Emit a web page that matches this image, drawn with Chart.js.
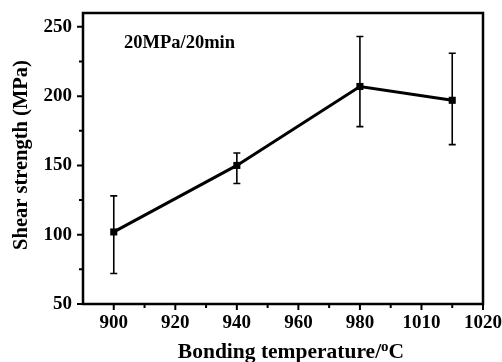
<!DOCTYPE html>
<html>
<head>
<meta charset="utf-8">
<script src="https://cdn.jsdelivr.net/npm/chart.js@4.4.1/dist/chart.umd.min.js"></script>
<style>
html,body{margin:0;padding:0;background:#fff;}
#wrap{width:502px;height:362px;}
</style>
</head>
<body>
<div id="wrap"><canvas id="c" width="502" height="362"></canvas></div>
<script>
const temperatures = [900, 940, 980, 1010];
const shearStrength = [102, 150, 207, 197];
const errorUpper = [128, 159, 243, 231];
const errorLower = [72, 137, 178, 165];
const xTickValues = [900, 920, 940, 960, 980, 1000, 1020];
const xTickLabels = ['900', '920', '940', '960', '980', '1010', '1020'];
const yTickValues = [50, 100, 150, 200, 250];
const annotationText = '20MPa/20min';
const yTitle = 'Shear strength (MPa)';
const xTitleMain = 'Bonding temperature/';
const xTitleSup = 'o';
const xTitleEnd = 'C';

const FONT = '"Liberation Serif", "Times New Roman", serif';

const decorPlugin = {
  id: 'decor',
  afterDatasetsDraw(chart) {
    const ctx = chart.ctx;
    const xs = chart.scales.x, ys = chart.scales.y;
    const a = chart.chartArea;
    ctx.save();
    // error bars
    ctx.strokeStyle = '#000';
    ctx.lineWidth = 1.6;
    for (let i = 0; i < temperatures.length; i++) {
      const px = xs.getPixelForValue(temperatures[i]);
      const pt = ys.getPixelForValue(errorUpper[i]);
      const pb = ys.getPixelForValue(errorLower[i]);
      ctx.beginPath();
      ctx.moveTo(px, pt); ctx.lineTo(px, pb);
      ctx.moveTo(px - 3.5, pt); ctx.lineTo(px + 3.5, pt);
      ctx.moveTo(px - 3.5, pb); ctx.lineTo(px + 3.5, pb);
      ctx.stroke();
    }
    // frame
    ctx.lineWidth = 2.5;
    ctx.strokeRect(a.left, a.top, a.right - a.left, a.bottom - a.top);
    // major + minor ticks
    ctx.lineWidth = 2;
    ctx.beginPath();
    for (let i = 0; i < xTickValues.length; i++) {
      const px = xs.getPixelForValue(xTickValues[i]);
      ctx.moveTo(px, a.bottom); ctx.lineTo(px, a.bottom + 6);
      if (i < xTickValues.length - 1) {
        const pm = xs.getPixelForValue((xTickValues[i] + xTickValues[i + 1]) / 2);
        ctx.moveTo(pm, a.bottom); ctx.lineTo(pm, a.bottom + 4);
      }
    }
    for (let i = 0; i < yTickValues.length; i++) {
      const py = ys.getPixelForValue(yTickValues[i]);
      ctx.moveTo(a.left, py); ctx.lineTo(a.left - 6, py);
      if (i < yTickValues.length - 1) {
        const pm = ys.getPixelForValue((yTickValues[i] + yTickValues[i + 1]) / 2);
        ctx.moveTo(a.left, pm); ctx.lineTo(a.left - 4, pm);
      }
    }
    ctx.stroke();
    // annotation
    ctx.fillStyle = '#000';
    ctx.font = 'bold 18.5px ' + FONT;
    ctx.textAlign = 'left';
    ctx.textBaseline = 'middle';
    ctx.fillText(annotationText, 124, 43);
    // y title
    ctx.save();
    ctx.translate(22, 155);
    ctx.rotate(-Math.PI / 2);
    ctx.font = 'bold 20.5px ' + FONT;
    ctx.textAlign = 'center';
    ctx.fillText(yTitle, 0, 0);
    ctx.restore();
    // x title with superscript
    ctx.textBaseline = 'alphabetic';
    ctx.font = 'bold 21.5px ' + FONT;
    const w1 = ctx.measureText(xTitleMain).width;
    ctx.font = 'bold 15px ' + FONT;
    const w2 = ctx.measureText(xTitleSup).width;
    ctx.font = 'bold 21.5px ' + FONT;
    const w3 = ctx.measureText(xTitleEnd).width;
    const total = w1 + w2 + w3;
    let sx = 291 - total / 2;
    const by = 358;
    ctx.textAlign = 'left';
    ctx.fillText(xTitleMain, sx, by);
    ctx.font = 'bold 15px ' + FONT;
    ctx.fillText(xTitleSup, sx + w1, by - 7);
    ctx.font = 'bold 21.5px ' + FONT;
    ctx.fillText(xTitleEnd, sx + w1 + w2, by);
    ctx.restore();
  }
};

new Chart(document.getElementById('c'), {
  type: 'line',
  data: {
    datasets: [{
      data: temperatures.map((t, i) => ({ x: t, y: shearStrength[i] })),
      borderColor: '#000',
      backgroundColor: '#000',
      borderWidth: 3,
      pointStyle: 'rect',
      pointRadius: 5,
      pointBorderWidth: 0,
      tension: 0
    }]
  },
  options: {
    responsive: false,
    animation: false,
    devicePixelRatio: 1,
    layout: { padding: { top: 13, right: 19, left: 0, bottom: 0 } },
    plugins: { legend: { display: false }, tooltip: { enabled: false } },
    scales: {
      x: {
        type: 'linear',
        min: 890, max: 1020,
        afterFit(s) { s.height = 58; s.paddingLeft = 0; s.paddingRight = 0; },
        afterBuildTicks(s) { s.ticks = xTickValues.map(v => ({ value: v })); },
        grid: { display: false, drawTicks: false },
        border: { display: false },
        ticks: {
          padding: 8,
          color: '#000',
          font: { family: FONT, size: 19, weight: 'bold' },
          maxRotation: 0,
          autoSkip: false,
          callback(v) { const i = xTickValues.indexOf(v); return i >= 0 ? xTickLabels[i] : ''; }
        }
      },
      y: {
        type: 'linear',
        min: 50, max: 260,
        afterFit(s) { s.width = 83; s.paddingTop = 0; s.paddingBottom = 0; },
        afterBuildTicks(s) { s.ticks = yTickValues.map(v => ({ value: v })); },
        grid: { display: false, drawTicks: false },
        border: { display: false },
        ticks: {
          padding: 11,
          color: '#000',
          font: { family: FONT, size: 19, weight: 'bold' }
        }
      }
    }
  },
  plugins: [decorPlugin]
});
</script>
</body>
</html>
